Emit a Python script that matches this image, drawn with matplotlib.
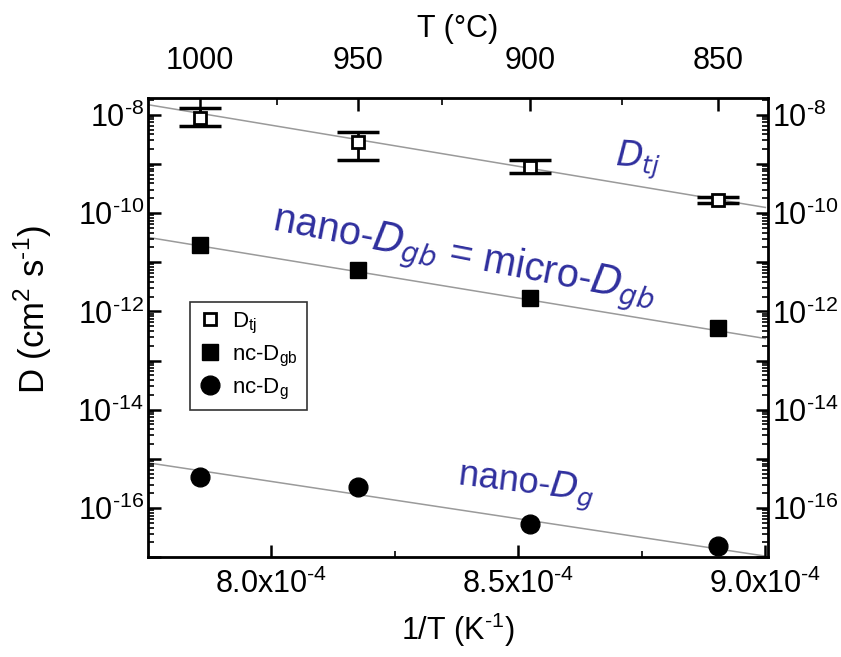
import numpy as np
import matplotlib
matplotlib.use("Agg")
import matplotlib.pyplot as plt
from matplotlib.ticker import FixedLocator, NullFormatter

plt.rcParams['font.family'] = ['Liberation Sans', 'DejaVu Sans']
plt.rcParams['mathtext.fontset'] = 'custom'
plt.rcParams['mathtext.rm'] = 'Liberation Sans'
plt.rcParams['mathtext.it'] = 'DejaVu Sans:italic'

# measurement temperatures (deg C)
temps_c = [1000, 950, 900, 850]
temps_minor = [975, 925, 875]

# triple junction diffusivity with error bar limits
d_tj = [8.5e-9, 2.8e-9, 8.7e-10, 1.85e-10]
d_tj_hi = [1.4e-8, 4.5e-9, 1.2e-9, 2.1e-10]
d_tj_lo = [6.0e-9, 1.2e-9, 6.6e-10, 1.6e-10]
# nanocrystalline grain boundary and grain diffusivity
d_gb = [2.2e-11, 6.9e-12, 1.85e-12, 4.5e-13]
d_g = [4.3e-16, 2.7e-16, 4.7e-17, 1.7e-17]

# fitted Arrhenius lines, values at the left / right edge of the plot
fit_x = [7.75e-4, 9.0e-4]
fit_tj = [1.6e-8, 1.3e-10]
fit_gb = [3.2e-11, 2.8e-13]
fit_g = [8.3e-16, 1.05e-17]

x_major = [8.0e-4, 8.5e-4, 9.0e-4]
x_minor = [8.25e-4, 8.75e-4]

inv_t = 1.0 / (np.array(temps_c) + 273.15)

fig = plt.figure(figsize=(8.41, 6.57), dpi=100)
ax = fig.add_axes([0.176, 0.152, 0.737, 0.699])

ax.set_yscale('log')
ax.set_xlim(7.75e-4, 9.005e-4)
ax.set_ylim(1e-17, 2.2e-8)

line_col = '#9a9a9a'
ax.plot(fit_x, fit_tj, color=line_col, lw=1.1, zorder=1)
ax.plot(fit_x, fit_gb, color=line_col, lw=1.1, zorder=1)
ax.plot(fit_x, fit_g, color=line_col, lw=1.1, zorder=1)

yerr = [np.array(d_tj) - np.array(d_tj_lo), np.array(d_tj_hi) - np.array(d_tj)]
ax.errorbar(inv_t, d_tj, yerr=yerr, fmt='none', ecolor='black', elinewidth=2,
            capsize=15, capthick=2.5, zorder=2)
ax.plot(inv_t, d_tj, 's', ms=8, mfc='white', mec='black', mew=2, zorder=3,
        label=r'D$_{\rm tj}$')
ax.plot(inv_t, d_gb, 's', ms=12, color='black', zorder=3, label=r'nc-D$_{\rm gb}$')
ax.plot(inv_t, d_g, 'o', ms=13.5, color='black', zorder=3, label=r'nc-D$_{\rm g}$')

# ticks (hyphen-style exponent sign as in the original)
ax.xaxis.set_major_locator(FixedLocator(x_major))
ax.xaxis.set_minor_locator(FixedLocator(x_minor))
ax.set_xticklabels([r'%.1fx10$^{\text{-}4}$' % (v * 1e4) for v in x_major])

decades = list(range(-17, -7))
ax.yaxis.set_major_locator(FixedLocator([10.0 ** e for e in decades]))
ax.set_yticklabels([r'10$^{\text{-}%d}$' % -e if e % 2 == 0 else '' for e in decades])
minors = [m * 10.0 ** e for e in range(-18, -7) for m in range(2, 10)]
ax.yaxis.set_minor_locator(FixedLocator(minors))
ax.yaxis.set_minor_formatter(NullFormatter())

ax.tick_params(axis='both', which='major', direction='in', length=9, width=1.8,
               labelsize=22, top=False, right=True, labelright=True, pad=5)
ax.tick_params(axis='y', which='major', pad=3)
ax.tick_params(axis='x', which='major', pad=8)
ax.tick_params(axis='both', which='minor', direction='in', length=4, width=1.2,
               top=False, right=True)
for s in ax.spines.values():
    s.set_linewidth(2)

# top temperature axis
ax2 = ax.twiny()
ax2.set_xlim(ax.get_xlim())
ax2.xaxis.set_major_locator(FixedLocator(1.0 / (np.array(temps_c) + 273.15)))
ax2.xaxis.set_minor_locator(FixedLocator(1.0 / (np.array(temps_minor) + 273.15)))
ax2.set_xticklabels([str(t) for t in temps_c])
ax2.tick_params(axis='x', which='major', direction='in', length=9, width=1.8,
                labelsize=22, pad=16)
ax2.tick_params(axis='x', which='minor', direction='in', length=5, width=1.2)
ax2.set_xlabel(u'T (\u00b0C)', fontsize=22, labelpad=6)

ax.set_xlabel(r'1/T (K$^{\text{-}1}$)', fontsize=22, labelpad=8)
ax.set_ylabel(r'D (cm$^2$ s$^{\text{-}1}$)', fontsize=25)
ax.yaxis.set_label_coords(-0.152, 0.54)

txt_col = '#2f2f9e'
ax.text(0.79, 0.865, r'$D_{tj}$', transform=ax.transAxes, fontsize=25,
        color=txt_col, rotation=-4, ha='center', va='center')
ax.text(0.51, 0.648, r'nano-$D_{gb}$ = micro-$D_{gb}$', transform=ax.transAxes,
        fontsize=28.5, color=txt_col, rotation=-11, ha='center', va='center')
ax.text(0.61, 0.155, r'nano-$D_{g}$', transform=ax.transAxes, fontsize=26,
        color=txt_col, rotation=-7, ha='center', va='center')

leg = ax.legend(loc='upper left', bbox_to_anchor=(0.068, 0.556), fontsize=16,
                frameon=True, fancybox=False, edgecolor='black', handlelength=1,
                handletextpad=0.5, labelspacing=0.35, borderpad=0.4,
                borderaxespad=0)
leg.get_frame().set_linewidth(1.2)

fig.savefig('out.png', dpi=100)
